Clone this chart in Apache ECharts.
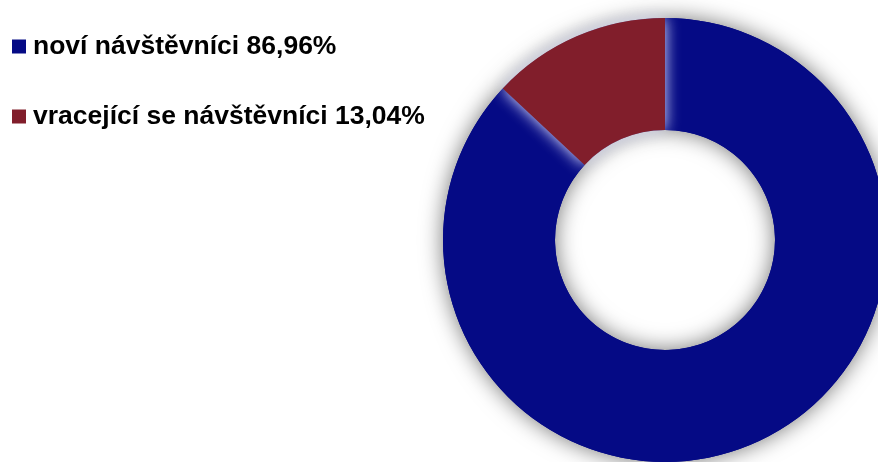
<!DOCTYPE html>
<html>
<head>
<meta charset="utf-8">
<script src="https://cdn.jsdelivr.net/npm/echarts@6/dist/echarts.min.js"></script>
<style>
  html, body { margin: 0; padding: 0; background: #fff; }
  #chart { width: 878px; height: 462px; }
</style>
</head>
<body>
<div id="chart"></div>
<script>
// Visitor share: new vs returning
const categories = ['noví návštěvníci', 'vracející se návštěvníci'];
const shares = [86.96, 13.04];
const colors = ['#050a85', '#811e2b'];

const fmt = v => v.toFixed(2).replace('.', ',') + '%';

const data = categories.map((name, i) => ({
  name,
  value: shares[i],
  itemStyle: i === 1
    // the smaller slice casts a pale glow onto its neighbour
    ? { color: colors[i], shadowBlur: 15, shadowColor: 'rgba(228,231,255,1)' }
    : { color: colors[i] }
}));

const chart = echarts.init(document.getElementById('chart'), null, { renderer: 'canvas' });
chart.setOption({
  animation: false,
  legend: {
    orient: 'vertical',
    left: 7,
    top: 28,
    itemGap: 43,
    itemWidth: 14,
    itemHeight: 14,
    icon: 'rect',
    data: categories,
    textStyle: {
      fontFamily: 'Liberation Sans, Arial, sans-serif',
      fontWeight: 'bold',
      fontSize: 26.5,
      color: '#000',
      padding: [0, 0, 0, 2]
    },
    formatter: name => name + ' ' + fmt(shares[categories.indexOf(name)])
  },
  series: [
    {
      // grey halo ring underneath the donut
      type: 'pie',
      center: [665, 240],
      radius: [110, 222],
      silent: true,
      label: { show: false },
      legendHoverLink: false,
      data: [{ name: '', value: 1 }],
      itemStyle: {
        color: colors[0],
        shadowBlur: 22,
        shadowColor: 'rgba(0,0,0,0.55)'
      },
      z: 1
    },
    {
      type: 'pie',
      center: [665, 240],
      radius: [110, 222],
      startAngle: 90,
      clockwise: true,
      label: { show: false },
      labelLine: { show: false },
      data,
      z: 2
    }
  ]
});
</script>
</body>
</html>
